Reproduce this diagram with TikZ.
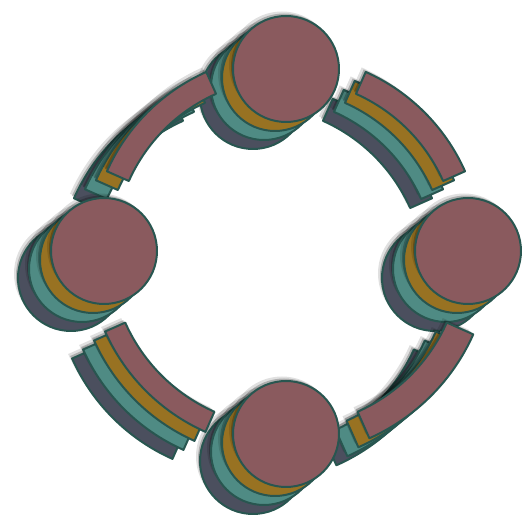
\documentclass[tikz,border=0pt]{standalone}
\begin{document}
\begin{tikzpicture}[x=1pt,y=1pt]
\definecolor{cmauve}{HTML}{8A5A5E}
\definecolor{cgold}{HTML}{987222}
\definecolor{cteal}{HTML}{4F8B84}
\definecolor{cdark}{HTML}{4B4F5E}
\definecolor{cline}{HTML}{285650}
\useasboundingbox (-286,-268) rectangle (237,251);
\newcommand\bandarc[4]{\path[band] (#1:#3) arc[start angle=#1,end angle=#2,radius=#3] -- (#2:#4) arc[start angle=#2,end angle=#1,radius=#4] -- cycle;}
\newcommand\allshapes{%
  \bandarc{24}{66}{172}{196}%
  \bandarc{114}{156}{172}{196}%
  \bandarc{204}{246}{176}{198}%
  \bandarc{294}{336}{176}{205}%
  \path[band] (0,182) circle[radius=53];%
  \path[band] (182,0) circle[radius=53];%
  \path[band] (0,-183) circle[radius=53];%
  \path[band] (-182,0) circle[radius=53];%
}
\foreach \k/\col in {3/cdark,2/cteal,1/cgold,0/cmauve}{
  \begin{scope}[shift={(-11*\k-4,-9*\k+4.5)},band/.style={fill=black,fill opacity=0.12,draw=none}]
    \allshapes
  \end{scope}
  \begin{scope}[shift={(-11*\k-2,-9*\k+2.5)},band/.style={fill=black,fill opacity=0.22,draw=none}]
    \allshapes
  \end{scope}
  \begin{scope}[shift={(-11*\k,-9*\k)},band/.style={fill=\col,draw=cline,line width=2,line join=round}]
    \allshapes
  \end{scope}
}
\end{tikzpicture}
\end{document}
